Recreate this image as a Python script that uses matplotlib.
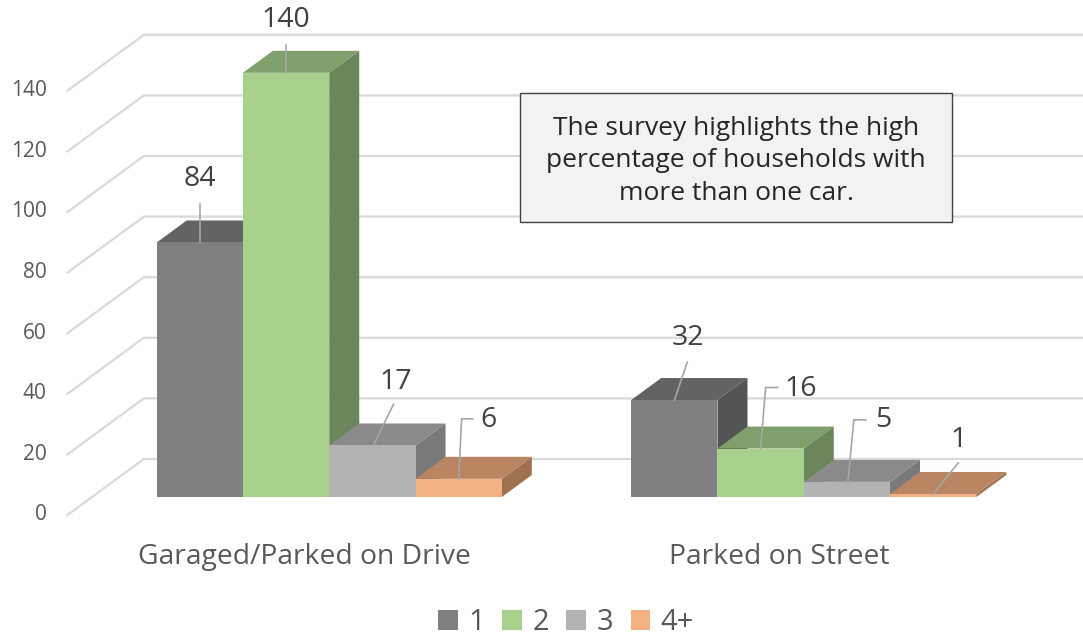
import matplotlib.pyplot as plt
from matplotlib.patches import Polygon, Patch

plt.rcParams['font.family'] = ['Open Sans', 'DejaVu Sans']

# data
categories = ["Garaged/Parked on Drive", "Parked on Street"]
series = ["1", "2", "3", "4+"]
values = [[84, 140, 17, 6],
          [32, 16, 5, 1]]
yticks = [0, 20, 40, 60, 80, 100, 120, 140]
note = "The survey highlights the high\npercentage of households with\nmore than one car."

# colours per series: front, top, side
front = ["#7f7f7f", "#a9d18e", "#b3b3b3", "#f4b183"]
top = ["#636363", "#7f9f6b", "#8a8a8a", "#b98563"]
side = ["#545454", "#6b865a", "#797979", "#a0714f"]

# oblique "3d" set-up (pixel scales of the original)
PX_X = 474.5      # px per category
PX_Y = 3.03       # px per value unit
DX = 30 / PX_X    # depth shift per bar depth, x
DY = 22 / PX_Y    # depth shift per bar depth, y
Z_BACK = 38 / 22
Z_FRONT = -18 / 22
BAR_W = 1 / 5.5
GAP = 0.75 / 5.5


def proj(xc, v, z=0.0):
    return xc + z * DX, v + z * DY


def px(dx, dy):
    # pixel offset -> data offset (dy positive = down in picture)
    return dx / PX_X, -dy / PX_Y


fig = plt.figure(figsize=(10.83, 6.38), dpi=100)
ax = fig.add_axes([0, 0, 1, 1])
ax.axis('off')
ax.set_xlim(-0.5 - 92 / PX_X, -0.5 + (1083 - 92) / PX_X)
ax.set_ylim(-(638 - 497) / PX_Y, 497 / PX_Y)

# walls / gridlines
grid_c = "#d9d9d9"
for t in yticks:
    bx, by = proj(-0.5, t, Z_BACK)
    fx, fy = proj(-0.5, t, Z_FRONT)
    ex, ey = proj(1.7, t, Z_BACK)
    ax.plot([fx, bx, ex], [fy, by, ey], color=grid_c, lw=1.6, zorder=1,
            solid_joinstyle='miter')
    ox, oy = px(-21, 0)
    ax.text(fx + ox, fy, str(t), ha='right', va='center', fontsize=15,
            color="#595959")

# bars, left to right
anchors = []
for g, vals in enumerate(values):
    for s, v in enumerate(vals):
        x0 = g - 0.5 + GAP + s * BAR_W
        x1 = x0 + BAR_W
        fr = [proj(x0, 0), proj(x1, 0), proj(x1, v), proj(x0, v)]
        tp = [proj(x0, v), proj(x1, v), proj(x1, v, 1), proj(x0, v, 1)]
        sd = [proj(x1, 0), proj(x1, 0, 1), proj(x1, v, 1), proj(x1, v)]
        ax.add_patch(Polygon(sd, closed=True, fc=side[s], ec='none', zorder=2))
        ax.add_patch(Polygon(tp, closed=True, fc=top[s], ec='none', zorder=2))
        ax.add_patch(Polygon(fr, closed=True, fc=front[s], ec='none', zorder=2))
        anchors.append(proj((x0 + x1) / 2, v))

# data labels with leader lines (offsets in px from bar top)
label_off = [(0, -63), (0, -53), (23, -63), (30, -59),
             (14, -62), (40, -60), (36, -62), (25, -54)]
leaders = [[(0, -38), (0, 0)],
           [(0, -28), (0, 0)],
           [(21, -41), (1, 0)],
           [(14, -60), (3, -60), (0, 0)],
           [(13, -38), (0, 0)],
           [(17, -61), (5, -61), (0, 0)],
           [(19, -62), (7, -62), (1, 0)],
           [(25, -31), (0, 0)]]
flat = [v for vals in values for v in vals]
for (axx, ayy), v, lo, ld in zip(anchors, flat, label_off, leaders):
    ox, oy = px(*lo)
    ax.text(axx + ox, ayy + oy, str(v), ha='center', va='center',
            fontsize=20.5, color="#404040", zorder=4)
    pts = [px(*p) for p in ld]
    ax.plot([axx + p[0] for p in pts], [ayy + p[1] for p in pts],
            color="#a6a6a6", lw=1.2, zorder=3)

# category labels at the front edge
for g, name in enumerate(categories):
    cx, cy = proj(g, 0, Z_FRONT)
    oy = px(0, 42)[1]
    ax.text(cx, cy + oy, name, ha='center', va='center', fontsize=20.3,
            color="#595959")

# note box
fig.patches.append(plt.Rectangle((520 / 1083, 1 - 222 / 638), 432 / 1083,
                                 129 / 638, transform=fig.transFigure,
                                 fc="#f2f2f2", ec="#404040", lw=1.0, zorder=5))
fig.text(736 / 1083, 1 - 161 / 638, note, ha='center', va='center',
         fontsize=19, color="#262626", linespacing=1.38, zorder=6)

handles = [Patch(fc=c, ec='none') for c in front]
fig.legend(handles, series, loc='center', bbox_to_anchor=(566 / 1083, 1 - 623 / 638),
           ncol=4, frameon=False, fontsize=21, handlelength=0.68,
           handleheight=0.68, handletextpad=0.35, columnspacing=0.6,
           labelcolor="#595959")

fig.savefig("out.png", dpi=100)
